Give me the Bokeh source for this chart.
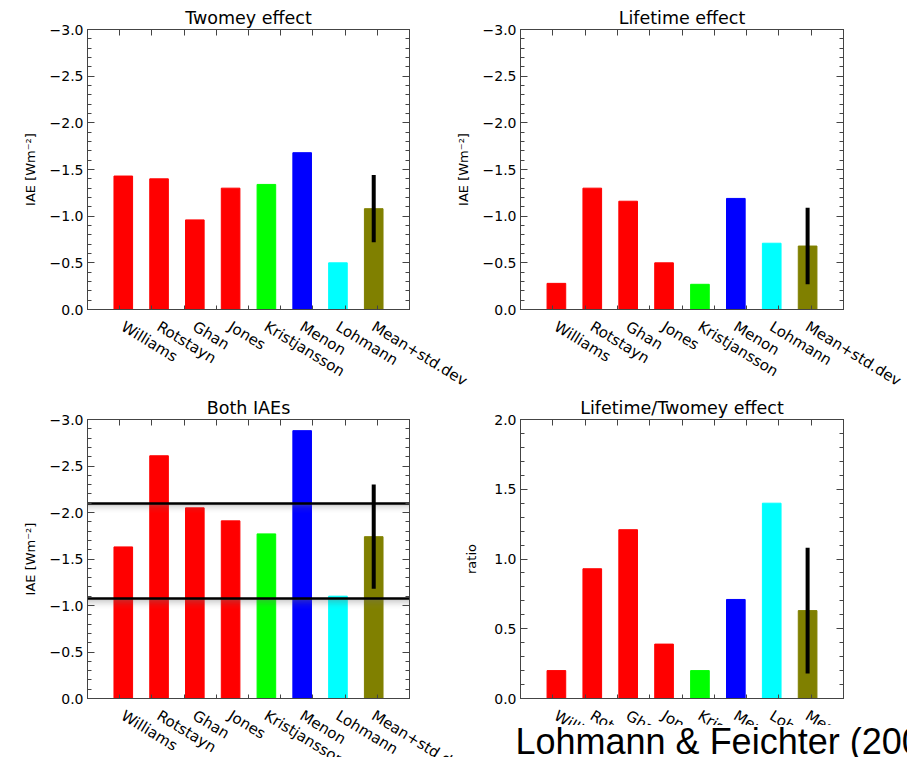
from bokeh.plotting import figure
from bokeh.models import (Range1d, FixedTicker, LinearAxis, ColumnDataSource, Label,
                          CustomJSTickFormatter)
from bokeh.layouts import column, row
from bokeh.embed import file_html
from bokeh.resources import INLINE
from bokeh.core.properties import value

# ---------------- data ----------------
models = ["Williams", "Rotstayn", "Ghan", "Jones", "Kristjansson", "Menon", "Lohmann", "Mean+std.dev"]
bar_colors = ["#ff0000", "#ff0000", "#ff0000", "#ff0000", "#00ff00", "#0000ff", "#00ffff", "#808000"]
x_pos = [1, 2, 3, 4, 5, 6, 7, 8]

twomey = [-1.43, -1.40, -0.96, -1.30, -1.34, -1.68, -0.50, -1.08]
twomey_std = 0.36
lifetime = [-0.28, -1.30, -1.16, -0.50, -0.27, -1.19, -0.71, -0.68]
lifetime_std = 0.41
both = [-1.63, -2.61, -2.05, -1.91, -1.77, -2.88, -1.10, -1.74]
both_std = 0.56
both_ref_lines = [-2.10, -1.07]
ratio = [0.20, 0.93, 1.21, 0.39, 0.20, 0.71, 1.40, 0.63]
ratio_std = 0.45

iae_ticks = [0.0, -0.5, -1.0, -1.5, -2.0, -2.5, -3.0]
iae_tick_labels = ["0.0", "\u22120.5", "\u22121.0", "\u22121.5", "\u22122.0", "\u22122.5", "\u22123.0"]
ratio_ticks = [0.0, 0.5, 1.0, 1.5, 2.0]
ratio_tick_labels = ["0.0", "0.5", "1.0", "1.5", "2.0"]
frame_x_ticks = [0.9, 1.8, 2.7, 3.6, 4.5, 5.4, 6.3, 7.2, 8.1]

source_text = "Lohmann & Feichter (2005)"

FONT = "DejaVu Sans"
FRAME_COL = "#444444"
XMAX = 9


def no_align(p):
    if "frame_align" in p.properties():
        p.frame_align = False


def minor_list(lo, hi):
    n = int(round((hi - lo) / 0.1))
    return [round(lo + 0.1 * i, 2) for i in range(n + 1)]


def blank_axis(ticker, tick_in):
    return LinearAxis(ticker=ticker, formatter=CustomJSTickFormatter(code="return ''"),
                      major_label_text_font_size="1px", major_label_standoff=0,
                      major_tick_in=tick_in, major_tick_out=0, minor_tick_in=4, minor_tick_out=0,
                      axis_line_color=FRAME_COL, major_tick_line_color=FRAME_COL,
                      minor_tick_line_color=FRAME_COL)


def panel(title, vals, std, yrange, ticks, tick_labels, ylabel, w, h, bl, bt, bb, br, lab_standoff):
    p = figure(width=w, height=h, x_range=Range1d(0, XMAX), y_range=Range1d(*yrange),
               output_backend="svg", toolbar_location=None,
               x_axis_location=None, y_axis_location=None,
               min_border_left=bl, min_border_top=bt, min_border_bottom=bb, min_border_right=br,
               background_fill_color="white", border_fill_color="white")
    no_align(p)
    p.outline_line_color = FRAME_COL
    p.outline_line_width = 1
    p.grid.visible = False

    p.title.text = title
    p.title.align = "center"
    p.title.text_font = FONT
    p.title.text_font_size = "17.5px"
    p.title.text_font_style = "normal"
    p.title.text_color = "black"
    p.title.standoff = 3

    lo, hi = min(yrange), max(yrange)
    yminor = minor_list(lo, hi)

    left = LinearAxis(ticker=FixedTicker(ticks=ticks, minor_ticks=yminor))
    left.major_label_overrides = {t: l for t, l in zip(ticks, tick_labels)}
    left.major_label_text_font = FONT
    left.major_label_text_font_size = "14px"
    left.major_label_text_color = "black"
    left.major_label_standoff = 4
    left.major_tick_in = 7
    left.major_tick_out = 0
    left.minor_tick_in = 4
    left.minor_tick_out = 0
    left.axis_line_color = FRAME_COL
    left.major_tick_line_color = FRAME_COL
    left.minor_tick_line_color = FRAME_COL
    left.axis_label = ylabel
    left.axis_label_text_font = FONT
    left.axis_label_text_font_size = "13px"
    left.axis_label_text_font_style = "normal"
    left.axis_label_text_color = "black"
    left.axis_label_standoff = lab_standoff
    p.add_layout(left, "left")

    p.add_layout(blank_axis(FixedTicker(ticks=ticks, minor_ticks=yminor), 7), "right")
    p.add_layout(blank_axis(FixedTicker(ticks=frame_x_ticks, minor_ticks=[]), 6), "above")
    p.add_layout(blank_axis(FixedTicker(ticks=frame_x_ticks, minor_ticks=[]), 4), "below")

    src = ColumnDataSource(dict(x=x_pos, v=vals, c=bar_colors))
    p.vbar(x="x", top="v", bottom=0, width=0.52, fill_color="c", line_color="c", source=src)
    return p


def add_errorbar(p, vals, std):
    m = vals[-1]
    p.segment(x0=[x_pos[-1]], y0=[m - std], x1=[x_pos[-1]], y1=[m + std],
              line_width=4, line_color="black")


def label_strip(w, h, frame_left, frame_w):
    """Figure holding the slanted category names under a panel; its x scale
    matches the panel's frame (frame_left .. frame_left+frame_w in this strip)."""
    u = frame_w / XMAX
    s = figure(width=w, height=h, x_range=Range1d(-frame_left / u, (w - frame_left) / u),
               y_range=Range1d(-h, 0), output_backend="svg", toolbar_location=None,
               min_border=0, x_axis_location=None, y_axis_location=None, title=None,
               background_fill_color="white", border_fill_color="white")
    no_align(s)
    s.outline_line_color = None
    s.grid.visible = False
    src = ColumnDataSource(dict(x=x_pos, name=models))
    s.text(x="x", y=0, text="name", source=src, angle=-0.55, x_offset=4,
           text_align="left", text_baseline="top",
           text_font=value(FONT), text_font_size=value("15px"), text_color="black")
    return s


YL = "IAE [Wm\u207b\u00b2]"

# top row: frames at x 87..409 and 520..843, y 29..309
p1 = panel("Twomey effect", twomey, twomey_std, (0, -3), iae_ticks, iae_tick_labels, YL,
           450, 317, 87, 29, 8, 41, 9)
add_errorbar(p1, twomey, twomey_std)

p2 = panel("Lifetime effect", lifetime, lifetime_std, (0, -3), iae_ticks, iae_tick_labels, YL,
           457, 317, 70, 29, 8, 64, 9)
add_errorbar(p2, lifetime, lifetime_std)

s1 = label_strip(488, 73, 87, 322)
s2 = label_strip(419, 73, 32, 323)

# bottom row: frames at y 419..698
p3 = panel("Both IAEs", both, both_std, (0, -3), iae_ticks, iae_tick_labels, YL,
           450, 316, 87, 29, 8, 41, 9)
for d, a in [(0.02, 0.14), (0.04, 0.11), (0.06, 0.08), (0.08, 0.05), (0.10, 0.03)]:
    p3.hstrip(y0=both_ref_lines, y1=[v + d for v in both_ref_lines],
              fill_color="#707070", fill_alpha=a, line_alpha=0)
p3.hspan(y=both_ref_lines, line_width=2.5, line_color="black")
add_errorbar(p3, both, both_std)

p4 = panel("Lifetime/Twomey effect", ratio, ratio_std, (0, 2), ratio_ticks, ratio_tick_labels, "ratio",
           457, 316, 70, 29, 8, 64, 12)
add_errorbar(p4, ratio, ratio_std)

s3 = label_strip(488, 51, 87, 322)
s4 = label_strip(419, 19, 32, 323)

pt = figure(width=419, height=32, x_range=Range1d(0, 419), y_range=Range1d(0, 32),
            output_backend="svg", toolbar_location=None, min_border=0, title=None,
            x_axis_location=None, y_axis_location=None,
            background_fill_color="white", border_fill_color="white")
no_align(pt)
pt.outline_line_color = None
pt.grid.visible = False
pt.add_layout(Label(x=27, y=16, text=source_text, text_font="Liberation Sans",
                    text_font_size="36px", text_baseline="middle", text_align="left",
                    text_color="black"))

layout = column(row(p1, p2), row(s1, s2), row(p3, p4), row(s3, column(s4, pt)))

open("out.html", "w").write(file_html(layout, INLINE))
